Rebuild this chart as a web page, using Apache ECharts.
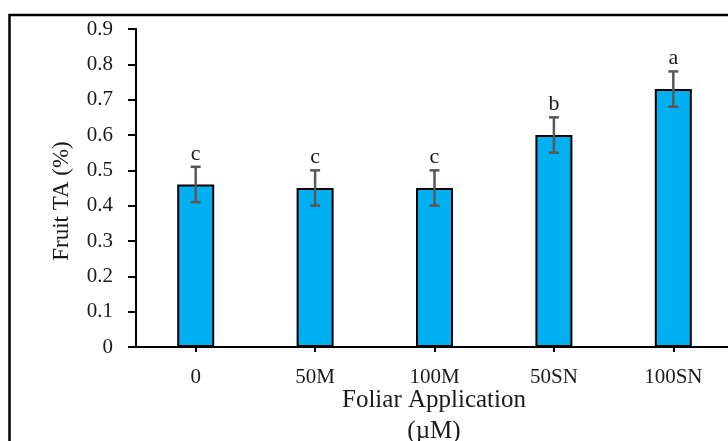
<!DOCTYPE html>
<html>
<head>
<meta charset="utf-8">
<script src="https://cdn.jsdelivr.net/npm/echarts@6/dist/echarts.min.js"></script>
<style>html,body{margin:0;padding:0;background:#fff}#c{width:728px;height:441px}</style>
</head>
<body>
<div id="c"></div>
<script>
const categories = ['0', '50M', '100M', '50SN', '100SN'];
const taValues = [0.46, 0.45, 0.45, 0.60, 0.73];
const taErrors = [0.05, 0.05, 0.05, 0.05, 0.05];
const sigLetters = ['c', 'c', 'c', 'b', 'a'];
const yTicks = [0, 0.1, 0.2, 0.3, 0.4, 0.5, 0.6, 0.7, 0.8, 0.9];
const xTitle = 'Foliar Application\n(µM)';
const yTitle = 'Fruit TA (%)';

const FONT = '"Liberation Serif", "Times New Roman", serif';
const chart = echarts.init(document.getElementById('c'), null, {renderer: 'canvas'});

const errData = categories.map((c, i) => [i, taValues[i], taErrors[i], sigLetters[i]]);

chart.setOption({
  animation: false,
  backgroundColor: '#fff',
  grid: {left: 136, top: 29, bottom: 94, right: -5, containLabel: false, outerBoundsMode: 'none'},
  graphic: [
    {type: 'rect', shape: {x: 9.5, y: 15, width: 760, height: 470},
     style: {fill: 'none', stroke: '#000', lineWidth: 2.5}, silent: true, z: 0},
    {type: 'text', x: 62, y: 201, rotation: Math.PI / 2,
     style: {text: yTitle, font: '23px ' + FONT, fill: '#1a1a1a', textAlign: 'center', textVerticalAlign: 'middle'}},
    {type: 'text', x: 434, y: 415.5,
     style: {text: xTitle, font: '25px ' + FONT, lineHeight: 31, fill: '#1a1a1a', textAlign: 'center', textVerticalAlign: 'middle'}}
  ],
  xAxis: {
    type: 'category',
    data: categories,
    axisLine: {lineStyle: {color: '#000', width: 2}},
    axisTick: {show: true, alignWithLabel: true, length: 5, lineStyle: {color: '#000', width: 2}},
    axisLabel: {fontFamily: FONT, fontSize: 21, color: '#1a1a1a', margin: 20}
  },
  yAxis: {
    type: 'value',
    min: 0, max: 0.9, interval: 0.1,
    axisLine: {show: true, lineStyle: {color: '#000', width: 2}},
    axisTick: {show: true, length: 8, lineStyle: {color: '#000', width: 2}},
    splitLine: {show: false},
    axisLabel: {fontFamily: FONT, fontSize: 21, color: '#1a1a1a', margin: 23,
      formatter: v => { const t = yTicks.find(k => Math.abs(k - v) < 1e-9); return t === 0 ? '0' : (t !== undefined ? t.toFixed(1) : ''); }}
  },
  series: [
    {
      type: 'bar',
      data: taValues,
      barWidth: 37,
      itemStyle: {color: '#00B0F0', borderColor: '#000', borderWidth: 2},
      z: 2
    },
    {
      type: 'custom',
      data: errData,
      z: 3,
      renderItem: function (params, api) {
        const i = api.value(0), v = api.value(1), e = api.value(2);
        const top = api.coord([i, v + e]);
        const bot = api.coord([i, v - e]);
        const cap = 5;
        const st = {stroke: '#595959', lineWidth: 2.5};
        return {
          type: 'group',
          children: [
            {type: 'line', shape: {x1: top[0], y1: top[1], x2: bot[0], y2: bot[1]}, style: st},
            {type: 'line', shape: {x1: top[0] - cap, y1: top[1], x2: top[0] + cap, y2: top[1]}, style: st},
            {type: 'line', shape: {x1: bot[0] - cap, y1: bot[1], x2: bot[0] + cap, y2: bot[1]}, style: st},
            {type: 'text', x: top[0], y: top[1] - 13,
             style: {text: sigLetters[params.dataIndex], font: '22px ' + FONT, fill: '#1a1a1a', textAlign: 'center', textVerticalAlign: 'middle'}}
          ]
        };
      }
    }
  ]
});
</script>
</body>
</html>
